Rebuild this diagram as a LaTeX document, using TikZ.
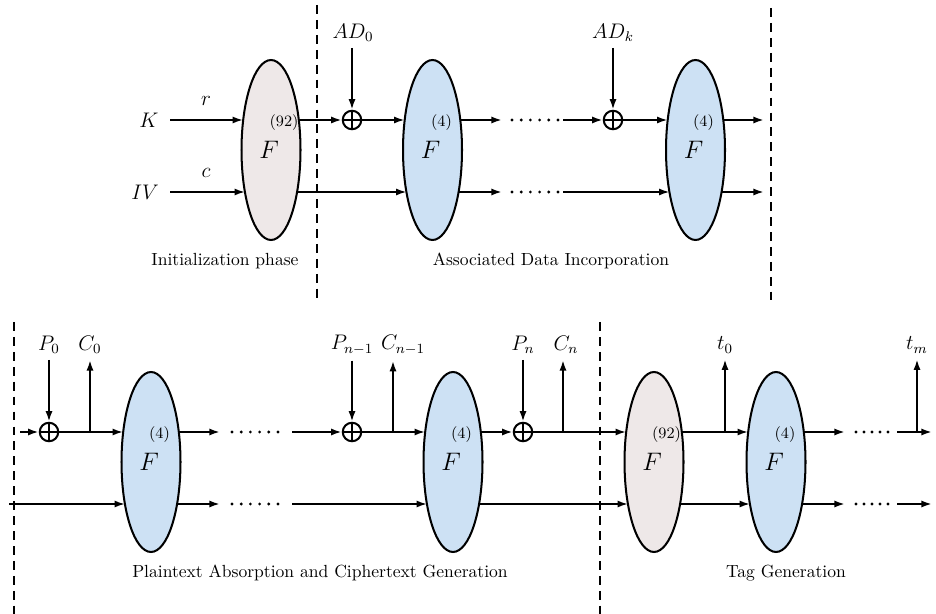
\documentclass[tikz,border=0pt]{standalone}
\usetikzlibrary{shapes.geometric,arrows.meta,calc}
\definecolor{pinkF}{RGB}{238,232,232}
\definecolor{blueF}{RGB}{205,225,244}
\newcommand\Fblock[6]{%
  \node[fblk,fill=#4] (#1) at (#2,#3) {};
  \node[Flbl] (#1F) at ($(#1.center)+(-2,0)$) {$F$};
  \node[exlbl] (#1x) at ($(#1.center)+(#6,-27)$) {(#5)};
  \coordinate (#1ul) at ($(#1.center)+(-27.8,-30)$);
  \coordinate (#1ur) at ($(#1.center)+(27.8,-30)$);
  \coordinate (#1ll) at ($(#1.center)+(-25.8,42)$);
  \coordinate (#1lr) at ($(#1.center)+(25.8,42)$);
}
\newcommand\dotrow[4]{\foreach \i in {1,...,#3} \fill ({#1+(\i-1)*#4},#2) circle (0.9pt);}
\begin{document}
\begin{tikzpicture}[x=0.02cm,y=-0.02cm,
  fblk/.style={ellipse,draw,line width=1.15pt,minimum width=1.18cm,minimum height=3.6cm,inner sep=0pt},
  arr/.style={-{Latex[length=6pt,width=4pt]},line width=1.15pt},
  sep/.style={line width=1.1pt,dash pattern=on 5pt off 3.5pt},
  xorc/.style={circle,draw,line width=1.15pt,minimum size=0.37cm,inner sep=0pt,
    path picture={\draw[line width=1.15pt] (path picture bounding box.north)--(path picture bounding box.south) (path picture bounding box.west)--(path picture bounding box.east);}},
  lbl/.style={font=\large},
  Flbl/.style={font=\Large},
  exlbl/.style={font=\small},
  capt/.style={font=\normalsize}
]
\useasboundingbox (0,0) rectangle (936,614);

% ---------- top row ----------
\draw[sep] (317,5) -- (317,300);
\draw[sep] (771,8) -- (771,300);

\node[lbl] (K) at (149,120) {$K$};
\node[lbl] (IV) at (145,192) {$IV$};
\node[lbl] (r) at (206,101) {$r$};
\node[lbl] (c) at (206,173) {$c$};
\coordinate (Ks) at (170,120);
\coordinate (IVs) at (170,192);

\Fblock{e1}{271}{150}{pinkF}{92}{13}
\Fblock{e2}{432.5}{150}{blueF}{4}{9}
\Fblock{e3}{695.5}{150}{blueF}{4}{8}

\draw[arr] (Ks) -- (e1ul);
\draw[arr] (IVs) -- (e1ll);

\node[xorc] (x1) at (352,120) {};
\node[lbl] (AD0) at (353,33) {$AD_0$};
\draw[arr] (x1 |- AD0.south) -- (x1);
\draw[arr] (e1ur) -- (x1);
\draw[arr] (x1) -- (e2ul);
\draw[arr] (e1lr) -- (e2ll);

\coordinate (t1a) at (502,120);
\coordinate (t1b) at (563,120);
\coordinate (t2a) at (502,192);
\coordinate (t2b) at (563,192);
\draw[arr] (e2ur) -- (t1a);
\dotrow{512}{120}{6}{9.2}
\node[xorc] (x2) at (613,120) {};
\node[lbl] (ADk) at (613,33) {$AD_k$};
\draw[arr] (x2 |- ADk.south) -- (x2);
\draw[arr] (t1b) -- (x2);
\draw[arr] (x2) -- (e3ul);
\draw[arr] (e2lr) -- (t2a);
\dotrow{512}{192}{6}{9.2}
\draw[arr] (t2b) -- (e3ll);

\coordinate (o1) at (764,120);
\coordinate (o2) at (764,192);
\draw[arr] (e3ur) -- (o1);
\draw[arr] (e3lr) -- (o2);

\node[capt] (cap1) at (225,261) {Initialization phase};
\node[capt] (cap2) at (551,261) {Associated Data Incorporation};

% ---------- bottom row ----------
\draw[sep] (14,322) -- (14,614);
\draw[sep] (600,322) -- (600,614);

\Fblock{e4}{151}{462}{blueF}{4}{8.5}
\Fblock{e5}{453}{462}{blueF}{4}{8.5}
\Fblock{e6}{654}{462}{pinkF}{92}{12.5}
\Fblock{e7}{776}{462}{blueF}{4}{9}

\coordinate (bin1) at (20,432);
\coordinate (bin2) at (9,504);
\node[xorc] (x3) at (49,432) {};
\node[lbl] (P0) at (49,345) {$P_0$};
\node[lbl] (C0) at (90,345) {$C_0$};
\coordinate (c0t) at (90,432);
\draw[arr] (bin1) -- (x3);
\draw[arr] (x3 |- P0.south) -- (x3);
\draw[arr] (x3) -- (e4ul);
\draw[arr] (c0t) -- (c0t |- C0.south);
\draw[arr] (bin2) -- (e4ll);

\coordinate (u1a) at (220,432);
\coordinate (u1b) at (292,432);
\coordinate (u2a) at (220,504);
\coordinate (u2b) at (292,504);
\draw[arr] (e4ur) -- (u1a);
\dotrow{232}{432}{6}{9.2}
\draw[arr] (e4lr) -- (u2a);
\dotrow{232}{504}{6}{9.2}

\node[xorc] (x4) at (352,432) {};
\node[lbl] (Pn1) at (352,345) {$P_{n-1}$};
\node[lbl] (Cn1) at (403,345) {$C_{n-1}$};
\coordinate (cn1t) at (393,432);
\draw[arr] (u1b) -- (x4);
\draw[arr] (x4 |- Pn1.south) -- (x4);
\draw[arr] (x4) -- (e5ul);
\draw[arr] (cn1t) -- (cn1t |- Cn1.south);
\draw[arr] (u2b) -- (e5ll);

\node[xorc] (x5) at (523,432) {};
\node[lbl] (Pn) at (523,345) {$P_n$};
\node[lbl] (Cn) at (566,345) {$C_n$};
\coordinate (cnt) at (563,432);
\draw[arr] (e5ur) -- (x5);
\draw[arr] (x5 |- Pn.south) -- (x5);
\draw[arr] (x5) -- (e6ul);
\draw[arr] (cnt) -- (cnt |- Cn.south);
\draw[arr] (e5lr) -- (e6ll);

\node[lbl] (t0) at (725,345) {$t_0$};
\coordinate (t0t) at (725,432);
\draw[arr] (e6ur) -- (e7ul);
\draw[arr] (t0t) -- (t0t |- t0.south);
\draw[arr] (e6lr) -- (e7ll);

\coordinate (v1a) at (845,432);
\coordinate (v1b) at (897,432);
\coordinate (v1c) at (932,432);
\coordinate (v2a) at (845,504);
\coordinate (v2b) at (897,504);
\coordinate (v2c) at (932,504);
\draw[arr] (e7ur) -- (v1a);
\dotrow{856}{432}{5}{8}
\draw[arr] (v1b) -- (v1c);
\draw[arr] (e7lr) -- (v2a);
\dotrow{856}{504}{5}{8}
\draw[arr] (v2b) -- (v2c);
\node[lbl] (tm) at (917,345) {$t_m$};
\coordinate (tmt) at (917,432);
\draw[arr] (tmt) -- (tmt |- tm.south);

\node[capt] (cap3) at (320,573) {Plaintext Absorption and Ciphertext Generation};
\node[capt] (cap4) at (786,573) {Tag Generation};
\end{tikzpicture}
\end{document}
